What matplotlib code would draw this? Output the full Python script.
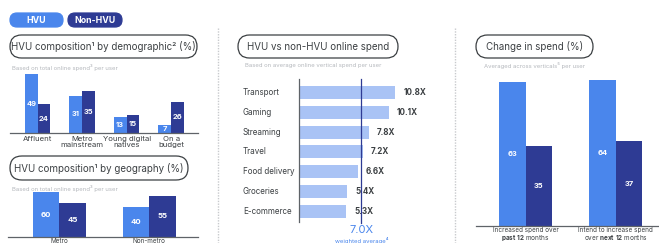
import matplotlib
matplotlib.use("Agg")
import matplotlib.pyplot as plt
from matplotlib.patches import FancyBboxPatch

plt.rcParams['font.family'] = ['Inter', 'DejaVu Sans']
plt.rcParams['mathtext.fontset'] = 'custom'
plt.rcParams['mathtext.rm'] = 'Inter'
plt.rcParams['mathtext.bf'] = 'Inter:bold'

# ---------------- data ----------------
series_names = ["HVU", "Non-HVU"]
demo_categories = ["Affluent", "Metro\nmainstream", "Young digital\nnatives", "On a\nbudget"]
demo_hvu = [49, 31, 13, 7]
demo_non_hvu = [24, 35, 15, 26]

geo_categories = ["Metro", "Non-metro"]
geo_hvu = [60, 40]
geo_non_hvu = [45, 55]

verticals = ["Transport", "Gaming", "Streaming", "Travel", "Food delivery", "Groceries", "E-commerce"]
spend_ratio = [10.8, 10.1, 7.8, 7.2, 6.6, 5.4, 5.3]
weighted_average = 7.0

change_categories = ["Increased spend over\n$\\bf{past\\ 12}$ months",
                     "Intend to increase spend\nover $\\bf{next\\ 12}$ months"]
change_hvu = [63, 64]
change_non_hvu = [35, 37]

# ---------------- style ----------------
W, H = 659, 243
C_HVU = "#4a86ec"
C_NON = "#2e3b94"
C_LIGHT = "#a9c3f5"
C_TEXT = "#3c4043"
C_SUB = "#b5b8bd"
C_BASE = "#5f6368"

fig = plt.figure(figsize=(W / 100, H / 100), dpi=100)
fig.patch.set_facecolor("white")

def px_axes(x0, y0, x1, y1):
    return fig.add_axes([x0 / W, 1 - y1 / H, (x1 - x0) / W, (y1 - y0) / H])

ov = fig.add_axes([0, 0, 1, 1], zorder=-1)
ov.set_xlim(0, W)
ov.set_ylim(H, 0)
ov.axis("off")

def draw_pill(x0, y0, x1, y1, fc="white", ec="#3c4043", lw=0.9, text=None, tc=C_TEXT,
              fs=7.0, bold=False):
    h = y1 - y0
    p = FancyBboxPatch((x0, y0), x1 - x0, h,
                       boxstyle=f"round,pad=0,rounding_size={h/2}",
                       fc=fc, ec=ec, lw=lw, transform=ov.transData)
    ov.add_patch(p)
    if text:
        ov.text((x0 + x1) / 2, (y0 + y1) / 2 + 0.5, text, ha="center", va="center",
                color=tc, fontsize=fs, fontweight="bold" if bold else "normal")

# legend pills
draw_pill(10, 13, 63, 27, fc=C_HVU, ec=C_HVU, text=series_names[0], tc="white", fs=6.3, bold=True)
draw_pill(68, 13, 122, 27, fc=C_NON, ec=C_NON, text=series_names[1], tc="white", fs=6.3, bold=True)

# title pills
draw_pill(10, 35, 197, 58, text="HVU composition¹ by demographic² (%)", fs=7.0)
draw_pill(10, 156, 188, 180, text="HVU composition¹ by geography (%)", fs=7.0)
draw_pill(238, 35, 398, 58, text="HVU vs non-HVU online spend", fs=7.0)
draw_pill(476, 35, 593, 58, text="Change in spend (%)", fs=7.0)

# subtitles
ov.text(12, 67, "Based on total online spend³ per user", fontsize=4.3, color=C_SUB, va="center")
ov.text(12, 188, "Based on total online spend³ per user", fontsize=4.3, color=C_SUB, va="center")
ov.text(245, 65, "Based on average online vertical spend per user", fontsize=4.3, color=C_SUB, va="center")
ov.text(534, 65, "Averaged across verticals⁵ per user", fontsize=4.3, color=C_SUB, va="center", ha="center")

# dotted separators
for x in (218, 455):
    ov.plot([x, x], [28, H], color="#c8cacd", lw=1.0, ls=(0, (1, 1)))

def style_bar_axes(ax):
    for s in ("top", "right", "left"):
        ax.spines[s].set_visible(False)
    ax.spines["bottom"].set_color(C_BASE)
    ax.spines["bottom"].set_linewidth(0.9)
    ax.set_yticks([])
    ax.tick_params(axis="x", length=0, labelsize=5.6, labelcolor=C_TEXT, pad=2)
    ax.patch.set_alpha(0)

def value_labels(ax, xs, vals, fs=5.4):
    for x, v in zip(xs, vals):
        ax.text(x, v / 2, str(v), ha="center", va="center", color="white",
                fontsize=fs, fontweight="bold")

# ---------- panel 1a: demographic ----------
ax1 = px_axes(10, 61, 198, 133)
style_bar_axes(ax1)
n = len(demo_categories)
xs = list(range(n))
bw = 0.29
ax1.bar([x - bw / 2 for x in xs], demo_hvu, width=bw, color=C_HVU)
ax1.bar([x + bw / 2 for x in xs], demo_non_hvu, width=bw, color=C_NON)
value_labels(ax1, [x - bw / 2 for x in xs], demo_hvu)
value_labels(ax1, [x + bw / 2 for x in xs], demo_non_hvu)
ax1.set_xlim(-0.62, 3.605)
ax1.set_ylim(0, 60)
ax1.set_xticks(xs)
ax1.set_xticklabels(demo_categories, linespacing=1.0)

# ---------- panel 1b: geography ----------
ax2 = px_axes(8, 186, 198, 237)
style_bar_axes(ax2)
xs = list(range(len(geo_categories)))
bw = 0.294
ax2.bar([x - bw / 2 for x in xs], geo_hvu, width=bw, color=C_HVU)
ax2.bar([x + bw / 2 for x in xs], geo_non_hvu, width=bw, color=C_NON)
value_labels(ax2, [x - bw / 2 for x in xs], geo_hvu, fs=5.6)
value_labels(ax2, [x + bw / 2 for x in xs], geo_non_hvu, fs=5.6)
ax2.set_xlim(-0.57, 1.54)
ax2.set_ylim(0, 68)
ax2.set_xticks(xs)
ax2.set_xticklabels(geo_categories)
ax2.tick_params(axis="x", labelsize=4.6, pad=0.5)

# ---------- panel 2: horizontal bars ----------
ax3 = px_axes(299, 79, 406, 222)
for s in ("top", "right", "bottom"):
    ax3.spines[s].set_visible(False)
ax3.spines["left"].set_color(C_BASE)
ax3.spines["left"].set_linewidth(0.9)
ax3.set_xticks([])
ax3.set_yticks([])
ax3.patch.set_alpha(0)
ys = list(range(len(verticals)))
ax3.barh(ys, spend_ratio, height=0.656, color=C_LIGHT, zorder=1)
ax3.set_xlim(0, 12)
ax3.set_ylim(6.53, -0.68)
for y, name, v in zip(ys, verticals, spend_ratio):
    ax3.text(-6.3, y, name, ha="left", va="center", fontsize=5.8, color=C_TEXT, clip_on=False)
    ax3.text(v + 0.9, y, f"{v:.1f}X", ha="left", va="center", fontsize=5.8,
             color=C_TEXT, fontweight="bold", clip_on=False)
ax3.plot([weighted_average, weighted_average], [-0.68, 6.6], color=C_NON, lw=0.9,
         zorder=3, clip_on=False)
ax3.text(weighted_average, 6.95, f"{weighted_average:.1f}X", ha="center", va="center",
         fontsize=8, color=C_HVU, clip_on=False)
ax3.text(weighted_average, 7.45, "weighted average⁴", ha="center", va="center",
         fontsize=4.3, color=C_HVU, clip_on=False)

# ---------- panel 3: change in spend ----------
ax4 = px_axes(476, 66, 659, 226)
style_bar_axes(ax4)
xs = list(range(len(change_categories)))
bw = 0.294
ax4.bar([x - bw / 2 for x in xs], change_hvu, width=bw, color=C_HVU)
ax4.bar([x + bw / 2 for x in xs], change_non_hvu, width=bw, color=C_NON)
value_labels(ax4, [x - bw / 2 for x in xs], change_hvu, fs=5.4)
value_labels(ax4, [x + bw / 2 for x in xs], change_non_hvu, fs=5.4)
ax4.set_xlim(-0.55, 1.478)
ax4.set_ylim(0, 70)
ax4.set_xticks(xs)
ax4.set_xticklabels(change_categories, linespacing=1.0)
ax4.tick_params(axis="x", labelsize=4.6, pad=0.8)

fig.savefig("out.png", dpi=100, facecolor="white")
